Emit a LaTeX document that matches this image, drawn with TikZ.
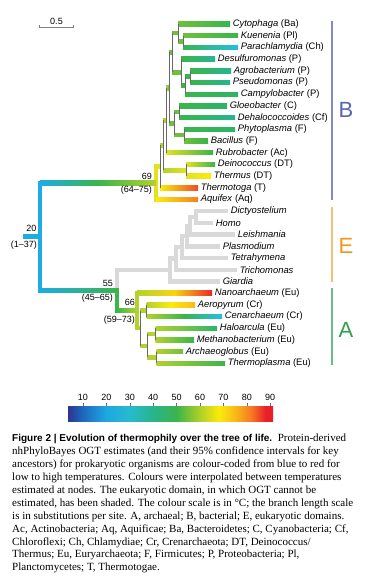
\documentclass[tikz,border=0pt]{standalone}
\usepackage{fontspec}
\setmainfont{Liberation Serif}
\setsansfont{Liberation Sans}
\usetikzlibrary{arrows.meta, calc}
\definecolor{t20}{RGB}{30,172,228}
\definecolor{t25}{RGB}{35,190,232}
\definecolor{t40}{RGB}{40,180,145}
\definecolor{t45}{RGB}{45,180,105}
\definecolor{t50}{RGB}{57,181,74}
\definecolor{t55}{RGB}{110,192,60}
\definecolor{t60}{RGB}{178,210,45}
\definecolor{t65}{RGB}{228,226,30}
\definecolor{t68}{RGB}{250,235,12}
\definecolor{t75}{RGB}{250,185,25}
\definecolor{t82}{RGB}{245,128,35}
\definecolor{t88}{RGB}{236,40,38}
\definecolor{eukgray}{RGB}{217,217,217}
\definecolor{linkgray}{RGB}{105,105,105}
\definecolor{domB}{RGB}{88,100,178}
\definecolor{domE}{RGB}{247,148,29}
\definecolor{domA}{RGB}{46,160,80}
\definecolor{cb0}{RGB}{45,52,145}
\definecolor{cb1}{RGB}{30,105,188}
\definecolor{cb2}{RGB}{30,168,226}
\definecolor{cb3}{RGB}{40,186,205}
\definecolor{cb4}{RGB}{40,180,140}
\definecolor{cb5}{RGB}{60,180,75}
\definecolor{cb6}{RGB}{175,208,40}
\definecolor{cb7}{RGB}{250,235,10}
\definecolor{cb8}{RGB}{250,185,25}
\definecolor{cb9}{RGB}{245,120,35}
\definecolor{cb10}{RGB}{234,32,40}
\pgfdeclarehorizontalshading{thermo}{100bp}{color(0bp)=(cb0); color(25bp)=(cb0); color(28.65bp)=(cb1); color(34.36bp)=(cb2); color(40.07bp)=(cb3); color(45.78bp)=(cb4); color(51.48bp)=(cb5); color(57.19bp)=(cb6); color(61.76bp)=(cb7); color(65.75bp)=(cb8); color(69.75bp)=(cb9); color(73.17bp)=(cb10); color(75bp)=(cb10); color(100bp)=(cb10)}
\newfontfamily\headfont{Liberation Sans}
\newcommand{\brbar}[3]{\path[#3] ($(#1 |- #2)+(0,-2.2)$) rectangle ($(#2)+(0,2.2)$);}
\tikzset{
	leaf/.style={anchor=west, inner xsep=2.6pt, inner ysep=0pt, font=\sffamily\fontsize{9.4}{10}\selectfont},
	est/.style={inner sep=0pt, font=\sffamily\fontsize{9}{10}\selectfont},
	link/.style={draw=linkgray, line width=0.5pt},
	stem/.style={line width=4.4pt, shorten <=-2.2pt, shorten >=-2.2pt},
	dombar/.style={line width=1.4pt},
	domlabel/.style={inner sep=0pt, font=\sffamily\fontsize{22}{22}\selectfont},
	caption/.style={anchor=north west, inner sep=0pt, align=left, font=\fontsize{11}{12.9}\selectfont},
}

\begin{document}
\begin{tikzpicture}[x=1pt, y=-1pt]
	\useasboundingbox (0,0) rectangle (371,586);
	\fill[white] (0,0) rectangle (371,586);
	\node[leaf] (cyt) at (230,24.0) {\textit{Cytophaga} (Ba)};
	\node[leaf] (kue) at (238,35.7) {\textit{Kuenenia} (Pl)};
	\node[leaf] (par) at (238,47.4) {\textit{Parachlamydia} (Ch)};
	\node[leaf] (des) at (215,59.1) {\textit{Desulfuromonas} (P)};
	\node[leaf] (agr) at (231,70.8) {\textit{Agrobacterium} (P)};
	\node[leaf] (pse) at (230,82.5) {\textit{Pseudomonas} (P)};
	\node[leaf] (cam) at (238,94.2) {\textit{Campylobacter} (P)};
	\node[leaf] (glo) at (227,105.9) {\textit{Gloeobacter} (C)};
	\node[leaf] (deh) at (235,117.6) {\textit{Dehalococcoides} (Cf)};
	\node[leaf] (phy) at (235,129.3) {\textit{Phytoplasma} (F)};
	\node[leaf] (bac) at (208,141.0) {\textit{Bacillus} (F)};
	\node[leaf] (rub) at (213,152.7) {\textit{Rubrobacter} (Ac)};
	\node[leaf] (dei) at (215,164.4) {\textit{Deinococcus} (DT)};
	\node[leaf] (ths) at (211,176.1) {\textit{Thermus} (DT)};
	\node[leaf] (thg) at (198,187.8) {\textit{Thermotoga} (T)};
	\node[leaf] (aqu) at (198,199.5) {\textit{Aquifex} (Aq)};
	\node[leaf] (dic) at (228,211.2) {\textit{Dictyostelium}};
	\node[leaf] (hom) at (213,222.9) {\textit{Homo}};
	\node[leaf] (lei) at (235,234.6) {\textit{Leishmania}};
	\node[leaf] (pla) at (220,246.3) {\textit{Plasmodium}};
	\node[leaf] (tet) at (228,258.0) {\textit{Tetrahymena}};
	\node[leaf] (tri) at (237,269.7) {\textit{Trichomonas}};
	\node[leaf] (gia) at (220,281.4) {\textit{Giardia}};
	\node[leaf] (nan) at (212,293.1) {\textit{Nanoarchaeum} (Eu)};
	\node[leaf] (aer) at (195,304.8) {\textit{Aeropyrum} (Cr)};
	\node[leaf] (cen) at (222,316.5) {\textit{Cenarchaeum} (Cr)};
	\node[leaf] (hal) at (217,328.2) {\textit{Haloarcula} (Eu)};
	\node[leaf] (met) at (194,339.9) {\textit{Methanobacterium} (Eu)};
	\node[leaf] (arc) at (183,351.6) {\textit{Archaeoglobus} (Eu)};
	\node[leaf] (tpl) at (225,363.3) {\textit{Thermoplasma} (Eu)};
	\coordinate (base) at (23,236.6);
	\coordinate (root) at (40,236.6);
	\coordinate (n69) at (156,183.0);
	\coordinate (nX) at (160,166.5);
	\coordinate (nY) at (163,145.3);
	\coordinate (nR) at (166,120.4);
	\coordinate (nBig) at (169,88.0);
	\coordinate (nProt) at (172,52.5);
	\coordinate (nCKP) at (178,32.8);
	\coordinate (nKP) at (183,41.55);
	\coordinate (nDAPC) at (181,72.3);
	\coordinate (nAPC) at (185,85.4);
	\coordinate (nAP) at (190,76.65);
	\coordinate (nGDPB) at (174,123.45);
	\coordinate (nGD) at (179,111.75);
	\coordinate (nPB) at (184,135.15);
	\coordinate (nDT) at (186,170.25);
	\coordinate (n55) at (117,290.3);
	\coordinate (e6) at (170,269.9);
	\coordinate (e5) at (176,258.4);
	\coordinate (e4) at (182,247.0);
	\coordinate (e3) at (187,236.1);
	\coordinate (e2) at (190,225.8);
	\coordinate (e1) at (196,217.05);
	\coordinate (n66) at (137,310.65);
	\coordinate (aX) at (140,328.2);
	\coordinate (aAC) at (146.5,310.65);
	\coordinate (aEury) at (147,345.75);
	\coordinate (aHM) at (155.5,334.05);
	\coordinate (aAT) at (156.5,357.45);
	\draw[stem, eukgray] (n55 |- e6) -- (n55);
	\foreach \n/\a/\b in {e1/dic/hom, e2/e1/lei, e3/e2/pla, e4/e3/tet, e5/e4/tri, e6/e5/gia}
		\draw[stem, eukgray] (\n |- \a) -- (\n |- \b);
	\foreach \p/\c in {n55/e6, e6/e5, e6/gia.west, e5/e4, e5/tri.west, e4/e3, e4/tet.west, e3/e2, e3/pla.west, e2/e1, e2/lei.west, e1/dic.west, e1/hom.west}
		\brbar{\p}{\c}{fill=eukgray}
	\draw[stem, t20] (root |- n69) -- (root |- n55);
	\draw[stem, t65] (n69 |- nX) -- (n69 |- aqu);
	\draw[stem, t50] (n55) -- (n55 |- n66);
	\draw[stem, t60] (n66 |- nan) -- (n66 |- aX);
	\brbar{base}{root}{fill=t20}
	\brbar{root}{n69}{left color=t20, right color=t60, middle color=t50}
	\brbar{root}{n55}{left color=t20, right color=t50}
	\brbar{n69}{nX}{fill=t65}
	\brbar{n69}{aqu.west}{left color=t68, right color=t82}
	\brbar{nX}{thg.west}{left color=t68, right color=t82!40!t88}
	\brbar{nX}{nY}{fill=t60}
	\brbar{nY}{nDT}{left color=t60, right color=t65}
	\brbar{nDT}{dei.west}{left color=t65, right color=t50}
	\brbar{nDT}{ths.west}{left color=t65, right color=t68}
	\brbar{nY}{nR}{fill=t60}
	\brbar{nR}{rub.west}{left color=t65, right color=t50}
	\brbar{nR}{nBig}{left color=t60, right color=t55}
	\brbar{nBig}{nProt}{fill=t55}
	\brbar{nBig}{nGDPB}{fill=t55}
	\brbar{nProt}{nCKP}{fill=t55}
	\brbar{nCKP}{cyt.west}{left color=t55, right color=t50}
	\brbar{nCKP}{nKP}{fill=t55}
	\brbar{nKP}{kue.west}{left color=t55, right color=t50}
	\brbar{nKP}{par.west}{left color=t50, right color=t25}
	\brbar{nProt}{nDAPC}{fill=t55}
	\brbar{nDAPC}{des.west}{left color=t50, right color=t40}
	\brbar{nDAPC}{nAPC}{fill=t50}
	\brbar{nAPC}{nAP}{fill=t50}
	\brbar{nAP}{agr.west}{left color=t50, right color=t40}
	\brbar{nAP}{pse.west}{left color=t50, right color=t40}
	\brbar{nAPC}{cam.west}{left color=t50, right color=t45}
	\brbar{nGDPB}{nGD}{fill=t55}
	\brbar{nGD}{glo.west}{left color=t50, right color=t45}
	\brbar{nGD}{deh.west}{left color=t50, right color=t40}
	\brbar{nGDPB}{nPB}{fill=t55}
	\brbar{nPB}{phy.west}{left color=t50, right color=t45}
	\brbar{nPB}{bac.west}{left color=t55, right color=t50}
	\brbar{n55}{n66}{left color=t50, right color=t60}
	\brbar{n66}{nan.west}{left color=t60, right color=t88, middle color=t75!50!t68}
	\brbar{n66}{aX}{fill=t60}
	\brbar{aX}{aAC}{fill=t60}
	\brbar{aAC}{aer.west}{left color=t60, right color=t75, middle color=t68}
	\brbar{aAC}{cen.west}{left color=t60, right color=t25, middle color=t50}
	\brbar{aX}{aEury}{fill=t60}
	\brbar{aEury}{aHM}{fill=t60}
	\brbar{aHM}{hal.west}{left color=t60, right color=t45}
	\brbar{aHM}{met.west}{left color=t60, right color=t50}
	\brbar{aEury}{aAT}{fill=t60}
	\brbar{aAT}{arc.west}{left color=t60, right color=t55}
	\brbar{aAT}{tpl.west}{left color=t60, right color=t50}
	\foreach \n/\a/\b in {nX/nY/thg, nY/nR/nDT, nR/nBig/rub, nBig/nProt/nGDPB, nProt/nCKP/nDAPC, nCKP/cyt/nKP, nKP/kue/par, nDAPC/des/nAPC, nAPC/nAP/cam, nAP/agr/pse, nGDPB/nGD/nPB, nGD/glo/deh, nPB/phy/bac, nDT/dei/ths, aX/aAC/aEury, aAC/aer/cen, aEury/aHM/aAT, aHM/hal/met, aAT/arc/tpl}
		\draw[link] (\n |- \a) -- (\n |- \b);
	\node[est, anchor=south east] (est20) at ($(root)+(-3.5,-4.5)$) {20};
	\node[est, anchor=north east] (ci20) at ($(root)+(-3,4.5)$) {(1--37)};
	\node[est, anchor=south east] (est69) at ($(n69)+(-4,-3.5)$) {69};
	\node[est, anchor=north east] (ci69) at ($(n69)+(-4,3)$) {(64--75)};
	\node[est, anchor=south east] (est55) at ($(n55)+(-4,-4)$) {55};
	\node[est, anchor=north east] (ci55) at ($(n55)+(-4,3)$) {(45--65)};
	\node[est, anchor=south east] (est66) at ($(n66)+(-2,-4.5)$) {66};
	\node[est, anchor=north east] (ci66) at ($(n66)+(-2,5)$) {(59--73)};
	\coordinate (sbl) at (39,27);
	\coordinate (sbr) at (74,27);
	\draw[gray, line width=0.8pt, {Bar[width=3pt]}-{Bar[width=3pt]}] (sbl) -- (sbr);
	\node[est, anchor=south] (sblab) at ($(sbl)!0.5!(sbr)+(0,-2)$) {0.5};
	\coordinate (dB1) at (332,21);
	\coordinate (dB2) at (332,200);
	\coordinate (dE1) at (332,207);
	\coordinate (dE2) at (332,282);
	\coordinate (dA1) at (332,288);
	\coordinate (dA2) at (332,365);
	\draw[dombar, domB!75] (dB1) -- (dB2);
	\draw[dombar, domE!60] (dE1) -- (dE2);
	\draw[dombar, domA!70] (dA1) -- (dA2);
	\node[domlabel, text=domB] (labB) at (346,110) {B};
	\node[domlabel, text=domE] (labE) at (346,246) {E};
	\node[domlabel, text=domA] (labA) at (346,330) {A};
	\coordinate (cbl) at (68,406);
	\coordinate (cbr) at (273,421);
	\shade[shading=thermo] (cbl) rectangle (cbr);
	\foreach \t in {10,20,...,90} {
		\node[est] (tick\t) at ({83+2.34*(\t-10)},397) {\t};
		\draw[linkgray, line width=0.5pt] ({83+2.34*(\t-10)},402.5) -- ({83+2.34*(\t-10)},406);
	}
	\node[caption] (legend) at (12,434) {%
		{\headfont\fontsize{10}{12.9}\selectfont\bfseries Figure 2 \textbar\ Evolution of thermophily over the tree of life.}\ \ Protein-derived\\
		nhPhyloBayes OGT estimates (and their 95\% confidence intervals for key\\
		ancestors) for prokaryotic organisms are colour-coded from blue to red for\\
		low to high temperatures. Colours were interpolated between temperatures\\
		estimated at nodes. The eukaryotic domain, in which OGT cannot be\\
		estimated, has been shaded. The colour scale is in °C; the branch length scale\\
		is in substitutions per site. A, archaeal; B, bacterial; E, eukaryotic domains.\\
		Ac, Actinobacteria; Aq, Aquificae; Ba, Bacteroidetes; C, Cyanobacteria; Cf,\\
		Chloroflexi; Ch, Chlamydiae; Cr, Crenarchaeota; DT, Deinococcus/\\
		Thermus; Eu, Euryarchaeota; F, Firmicutes; P, Proteobacteria; Pl,\\
		Planctomycetes; T, Thermotogae.};
\end{tikzpicture}
\end{document}
